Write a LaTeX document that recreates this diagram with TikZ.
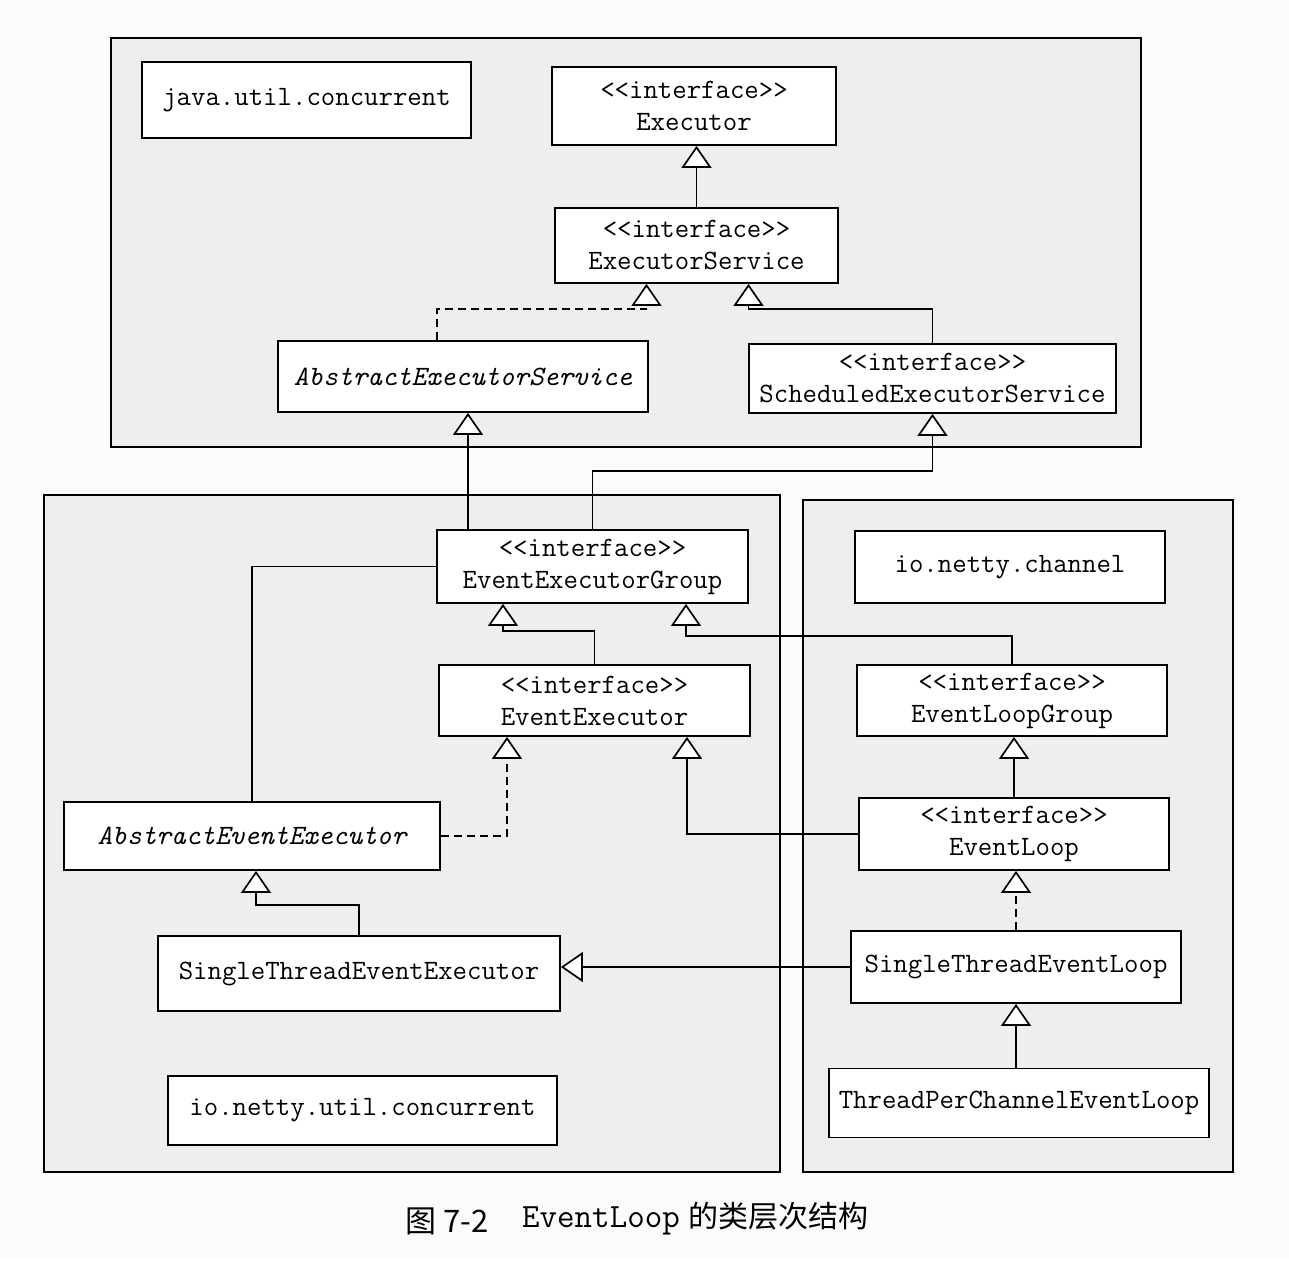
\documentclass[tikz,border=0pt]{standalone}
\usepackage{fontspec}
\newfontfamily\cjk{Noto Sans CJK SC}
\usetikzlibrary{arrows.meta}
\pgfdeclarelayer{bg}
\pgfdeclarelayer{conn}
\pgfsetlayers{bg,conn,main}
\begin{document}
\begin{tikzpicture}[x=1pt,y=-1pt,
  pkg/.style={draw, line width=1.8pt, fill=gray!13},
  cls/.style={draw, fill=white, line width=1.8pt, inner sep=0pt, align=center,
    font=\ttfamily\fontsize{28}{32}\selectfont},
  abs/.style={cls, font=\ttfamily\itshape\fontsize{28}{32}\selectfont},
  gen/.style={line width=1.7pt, -{Triangle[length=22pt,width=30pt,fill=white]}},
  real/.style={gen, dash pattern=on 8pt off 5pt}]
\useasboundingbox (0,0) rectangle (1289,1260);
\begin{pgfonlayer}{bg}
  \fill[gray!3] (0,0) rectangle (1289,1260);
  \draw[pkg] (111,38) rectangle (1141,447);
  \draw[pkg] (44,495) rectangle (780,1172);
  \draw[pkg] (803,500) rectangle (1233,1172);
\end{pgfonlayer}

\node[cls, minimum width=329pt, minimum height=76pt] (juc) at (306.5,100) {java.util.concurrent};
\node[cls, minimum width=284pt, minimum height=78pt] (ex) at (694,106) {{<}{<}interface{>}{>}\\Executor};
\node[cls, minimum width=283pt, minimum height=75pt] (es) at (696.5,245.5) {{<}{<}interface{>}{>}\\ExecutorService};
\node[abs, minimum width=370pt, minimum height=71pt] (aes) at (463,376.5) {AbstractExecutorService};
\node[cls, minimum width=367pt, minimum height=69pt] (ses) at (932.5,378.5) {{<}{<}interface{>}{>}\\ScheduledExecutorService};
\node[cls, minimum width=311pt, minimum height=73pt] (eeg) at (592.5,566.5) {{<}{<}interface{>}{>}\\EventExecutorGroup};
\node[cls, minimum width=311pt, minimum height=71pt] (ee) at (594.5,700.5) {{<}{<}interface{>}{>}\\EventExecutor};
\node[abs, minimum width=376pt, minimum height=68pt] (aee) at (252,836) {AbstractEventExecutor};
\node[cls, minimum width=402pt, minimum height=75pt] (stee) at (359,973.5) {SingleThreadEventExecutor};
\node[cls, minimum width=389pt, minimum height=69pt] (inuc) at (362.5,1110.5) {io.netty.util.concurrent};
\node[cls, minimum width=310pt, minimum height=72pt] (inc) at (1010,567) {io.netty.channel};
\node[cls, minimum width=310pt, minimum height=71pt] (elg) at (1012,700.5) {{<}{<}interface{>}{>}\\EventLoopGroup};
\node[cls, minimum width=310pt, minimum height=72pt] (el) at (1014,834) {{<}{<}interface{>}{>}\\EventLoop};
\node[cls, minimum width=330pt, minimum height=72pt] (stel) at (1016,967) {SingleThreadEventLoop};
\node[cls, minimum width=380pt, minimum height=69pt] (tpcel) at (1019,1103) {ThreadPerChannelEventLoop};

\node[anchor=west, inner sep=0pt, font=\cjk\fontsize{31}{34}\selectfont] (cap1) at (405,1221) {图 7-2};
\node[anchor=west, inner sep=0pt, font=\fontsize{30}{34}\selectfont] (cap2) at (522,1219)
  {{\ttfamily\fontsize{34}{36}\selectfont EventLoop} {\cjk 的类层次结构}};

\begin{pgfonlayer}{conn}
  \draw[gen] (es.north) -- (es.north |- ex.south);
  \draw[real] ([xshift=-26pt]aes.north) -- ++(0,-31) -| ([xshift=-50pt]es.south);
  \draw[gen] (ses.north) -- ++(0,-34) -| ([xshift=52pt]es.south);
  \draw[gen] (aee.north) |- ([xshift=5pt]aes.south |- eeg.west) -- ([xshift=5pt]aes.south);
  \draw[gen] (eeg.north) -- ++(0,-58) -| (ses.south);
  \draw[gen] (ee.north) -- ++(0,-33) -| ([xshift=-89.5pt]eeg.south);
  \draw[gen] (elg.north) -- ++(0,-28) -| ([xshift=93.5pt]eeg.south);
  \draw[real] (aee.east) -| ([xshift=-87.5pt]ee.south);
  \draw[gen] (stee.north) -- ++(0,-30) -| ([xshift=4pt]aee.south);
  \draw[gen] (el.north) -- (el.north |- elg.south);
  \draw[gen] (el.west) -| ([xshift=92.5pt]ee.south);
  \draw[real] (stel.north) -- (stel.north |- el.south);
  \draw[gen] (stel.west) -- (stel.west -| stee.east);
  \draw[gen] ([xshift=-3pt]tpcel.north) -- ([xshift=-3pt]tpcel.north |- stel.south);
\end{pgfonlayer}
\end{tikzpicture}
\end{document}
